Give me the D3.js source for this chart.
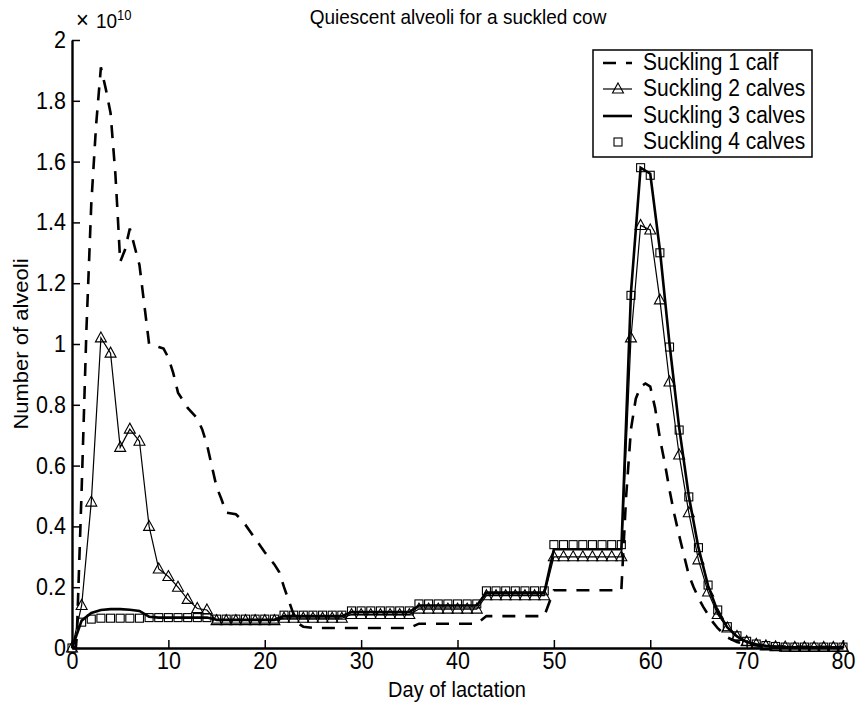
<!DOCTYPE html>
<html>
<head>
<meta charset="utf-8">
<script src="https://cdn.jsdelivr.net/npm/d3@7/dist/d3.min.js"></script>
<style>
  html, body { margin: 0; padding: 0; background: #fff; }
  svg { display: block; }
  text { font-family: "Liberation Sans", Arial, Helvetica, sans-serif; fill: #000; }
</style>
</head>
<body>
<script>
// ---------------- DATA (values in units of 10^10 alveoli) ----------------
const title = "Quiescent alveoli for a suckled cow";
const xLabel = "Day of lactation";
const yLabel = "Number of alveoli";
const seriesNames = ["Suckling 1 calf", "Suckling 2 calves", "Suckling 3 calves", "Suckling 4 calves"];

const xTicks = [0, 10, 20, 30, 40, 50, 60, 70, 80];
const xTickLabels = ["0", "10", "20", "30", "40", "50", "60", "70", "80"];
const yTicks = [0, 0.2, 0.4, 0.6, 0.8, 1, 1.2, 1.4, 1.6, 1.8, 2];
const yTickLabels = ["0", "0.2", "0.4", "0.6", "0.8", "1", "1.2", "1.4", "1.6", "1.8", "2"];

// daily sampling days 0..80 for series 2, 3, 4
const days = [0,1,2,3,4,5,6,7,8,9,10,11,12,13,14,15,16,17,18,19,20,
  21,22,23,24,25,26,27,28,29,30,31,32,33,34,35,36,37,38,39,40,
  41,42,43,44,45,46,47,48,49,50,51,52,53,54,55,56,57,58,59,60,
  61,62,63,64,65,66,67,68,69,70,71,72,73,74,75,76,77,78,79,80];

// Suckling 1 calf (dashed line) – sampled at its own days
const calf1Days = [0,0.4,0.5,0.75,1,1.5,2,2.5,3,3.5,4,4.5,4.75,5,5.5,6,6.5,7,7.5,8,9,9.5,10,10.5,11,12,13,13.5,14,14.5,15,15.5,16,17,17.5,18,19,20,21,21.5,22,22.5,23,23.5,24,25,
  35,36,42,43,49,50,57,57.5,58,58.5,59,59.5,60,60.5,61,61.5,62,62.5,63,63.5,64,64.5,65,65.5,66,66.5,67,68,69,70,71,72,80];
const calf1 = [0,0,0.04,0.28,0.52,1.05,1.46,1.72,1.91,1.84,1.76,1.56,1.42,1.27,1.31,1.38,1.32,1.26,1.13,1.0,0.99,0.985,0.955,0.905,0.84,0.79,0.755,0.72,0.67,0.6,0.53,0.49,0.445,0.44,0.425,0.405,0.36,0.315,0.275,0.25,0.2,0.155,0.11,0.08,0.07,0.066,
  0.066,0.08,0.08,0.105,0.105,0.19,0.19,0.5,0.72,0.82,0.86,0.87,0.86,0.79,0.69,0.61,0.52,0.44,0.37,0.305,0.24,0.2,0.165,0.135,0.11,0.085,0.065,0.035,0.02,0.012,0.008,0.005,0.003];

// Suckling 2 calves (thin line with triangles), days 0..80
const calves2 = [0,0.14,0.48,1.02,0.97,0.66,0.72,0.68,0.40,0.26,0.235,0.20,0.16,0.13,0.125,
  0.09,0.09,0.09,0.09,0.09,0.09,0.09,
  0.098,0.098,0.098,0.098,0.098,0.098,0.098,
  0.11,0.11,0.11,0.11,0.11,0.11,0.11,
  0.128,0.128,0.128,0.128,0.128,0.128,0.128,
  0.172,0.172,0.172,0.172,0.172,0.172,0.172,
  0.30,0.30,0.30,0.30,0.30,0.30,0.30,0.30,
  1.02,1.39,1.375,1.145,0.875,0.635,0.445,0.29,0.184,0.11,0.066,0.038,0.021,0.012,0.007,0.004,0.003,0.002,0.002,0.002,0.002,0.002,0.002];

// Suckling 3 calves (thick solid line), days 0..80
const calves3 = [0,0.09,0.115,0.125,0.128,0.128,0.126,0.122,0.103,0.10,0.10,0.10,0.10,0.10,0.10,
  0.093,0.093,0.093,0.093,0.093,0.093,0.093,
  0.105,0.105,0.105,0.105,0.105,0.105,0.105,
  0.118,0.118,0.118,0.118,0.118,0.118,0.118,
  0.14,0.14,0.14,0.14,0.14,0.14,0.14,
  0.182,0.182,0.182,0.182,0.182,0.182,0.182,
  0.325,0.325,0.325,0.325,0.325,0.325,0.325,0.325,
  1.17,1.58,1.56,1.31,1.0,0.725,0.50,0.33,0.205,0.12,0.068,0.038,0.02,0.012,0.007,0.004,0.002,0.002,0.002,0.002,0.002,0.002,0.002];

// Suckling 4 calves (square markers only), days 0..80
const calves4 = [0,0.085,0.095,0.098,0.098,0.098,0.098,0.098,0.10,0.10,0.10,0.10,0.10,0.10,0.10,
  0.095,0.095,0.095,0.095,0.095,0.095,0.095,
  0.108,0.108,0.108,0.108,0.108,0.108,0.108,
  0.122,0.122,0.122,0.122,0.122,0.122,0.122,
  0.145,0.145,0.145,0.145,0.145,0.145,0.145,
  0.188,0.188,0.188,0.188,0.188,0.188,0.188,
  0.34,0.34,0.34,0.34,0.34,0.34,0.34,0.34,
  1.16,1.58,1.555,1.30,0.99,0.717,0.497,0.33,0.207,0.125,0.07,0.04,0.022,0.013,0.008,0.005,0.003,0.003,0.003,0.003,0.003,0.003,0.003];

// ---------------- DRAWING ----------------
const W = 856, H = 702;
const VS = 1.1; // vertical text stretch of the original figure

const svg = d3.select("body").append("svg").attr("width", W).attr("height", H);

const x = d3.scaleLinear().domain([0, 80]).range([72, 843]);
const y = d3.scaleLinear().domain([0, 2]).range([648, 40]);

function stretchText(sel, px, py, anchor, size, txt, rot) {
  const g = sel.append("g").attr("transform", `translate(${px},${py}) scale(1,${VS})` + (rot ? ` rotate(${rot})` : ""));
  return g.append("text").attr("text-anchor", anchor).attr("font-size", size).text(txt);
}

// Axes
const xAxis = d3.axisBottom(x).tickValues(xTicks).tickFormat((d, i) => xTickLabels[i])
  .tickSizeInner(-8).tickSizeOuter(0).tickPadding(8);
const yAxis = d3.axisLeft(y).tickValues(yTicks).tickFormat((d, i) => yTickLabels[i])
  .tickSizeInner(-8).tickSizeOuter(0).tickPadding(6);

const gx = svg.append("g").attr("transform", `translate(0,${y(0)})`).call(xAxis);
const gy = svg.append("g").attr("transform", `translate(${x(0)},0)`).call(yAxis);
[gx, gy].forEach(g => {
  g.select(".domain").attr("stroke", "#000").attr("stroke-width", 2.4);
  g.selectAll(".tick line").attr("stroke", "#000").attr("stroke-width", 1.5);
  g.selectAll(".tick text").attr("font-size", 21.5).attr("fill", "#000")
    .attr("font-family", '"Liberation Sans", Arial, sans-serif');
});
gx.selectAll(".tick text").attr("transform", `scale(1,${VS})`).attr("y", 4);
gy.selectAll(".tick text").attr("transform", `scale(1,${VS})`);

// Line generators
const lineDaily = d3.line().x((d, i) => x(days[i])).y(d => y(d));
const lineCalf1 = d3.line().x((d, i) => x(calf1Days[i])).y(d => y(d));

// Series 1: dashed
svg.append("path").datum(calf1).attr("d", lineCalf1)
  .attr("fill", "none").attr("stroke", "#000").attr("stroke-width", 2.6)
  .attr("stroke-dasharray", "13,10");

// Series 2: thin line with triangles
svg.append("path").datum(calves2).attr("d", lineDaily)
  .attr("fill", "none").attr("stroke", "#000").attr("stroke-width", 1.2);
const triPath = "M0,-6L5.5,4L-5.5,4Z";
svg.append("g").selectAll("path").data(calves2).join("path")
  .attr("d", triPath)
  .attr("transform", (d, i) => `translate(${x(days[i])},${y(d)})`)
  .attr("fill", "none").attr("stroke", "#000").attr("stroke-width", 1.1);

// Series 3: thick solid line
svg.append("path").datum(calves3).attr("d", lineDaily)
  .attr("fill", "none").attr("stroke", "#000").attr("stroke-width", 2.6);

// Series 4: squares
svg.append("g").selectAll("rect").data(calves4).join("rect")
  .attr("x", (d, i) => x(days[i]) - 4).attr("y", d => y(d) - 4)
  .attr("width", 8).attr("height", 8)
  .attr("fill", "none").attr("stroke", "#000").attr("stroke-width", 1.1);

// Title and labels
stretchText(svg, 458, 24, "middle", 19, title);
stretchText(svg, 457, 697, "middle", 20, xLabel);
stretchText(svg, 28, 344, "middle", 20, yLabel, -90);

// Exponent
stretchText(svg, 76, 28, "start", 22, "\u00d7");
stretchText(svg, 96, 28, "start", 19, "10");
stretchText(svg, 117, 20, "start", 13, "10");

// Legend
const lg = svg.append("g");
lg.append("rect").attr("x", 593).attr("y", 50).attr("width", 219).attr("height", 107)
  .attr("fill", "#fff").attr("stroke", "#000").attr("stroke-width", 1.5);
const rowY = [63, 89, 116, 142];
const sx0 = 603, sx1 = 632, sm = 618, tx = 643;
// row 1 dashed
lg.append("line").attr("x1", sx0).attr("x2", sx1).attr("y1", rowY[0]).attr("y2", rowY[0])
  .attr("stroke", "#000").attr("stroke-width", 2.6).attr("stroke-dasharray", "13,10");
// row 2 line + triangle
lg.append("line").attr("x1", sx0).attr("x2", sx1).attr("y1", rowY[1]).attr("y2", rowY[1])
  .attr("stroke", "#000").attr("stroke-width", 1.2);
lg.append("path").attr("d", triPath).attr("transform", `translate(${sm},${rowY[1]})`)
  .attr("fill", "none").attr("stroke", "#000").attr("stroke-width", 1.1);
// row 3 solid
lg.append("line").attr("x1", sx0).attr("x2", sx1).attr("y1", rowY[2]).attr("y2", rowY[2])
  .attr("stroke", "#000").attr("stroke-width", 2.6);
// row 4 square
lg.append("rect").attr("x", sm - 4).attr("y", rowY[3] - 4).attr("width", 8).attr("height", 8)
  .attr("fill", "none").attr("stroke", "#000").attr("stroke-width", 1.1);
seriesNames.forEach((n, i) => {
  stretchText(lg, tx, rowY[i] + 7, "start", 21, n);
});
</script>
</body>
</html>
